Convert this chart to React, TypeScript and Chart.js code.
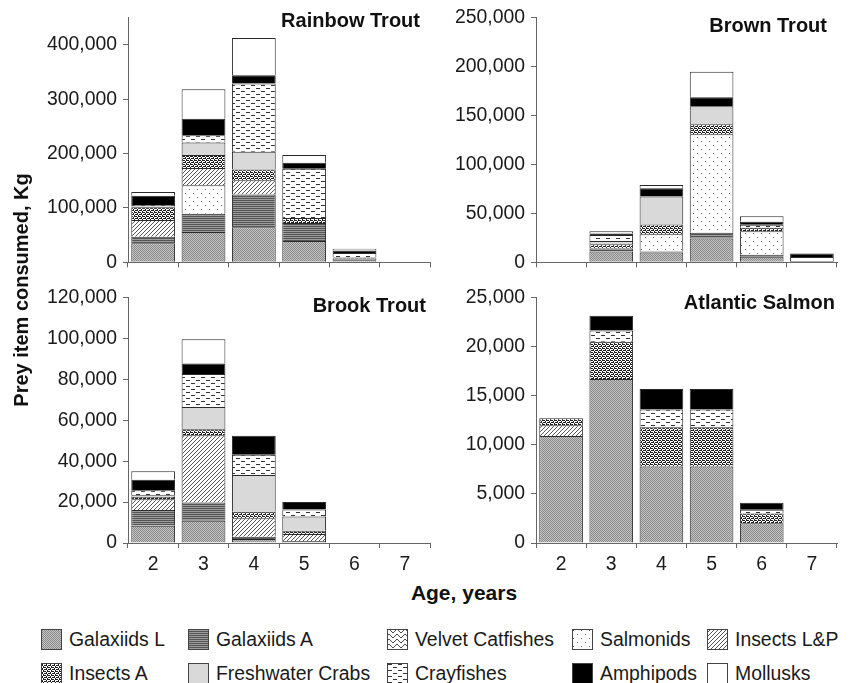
import React, { useEffect, useRef } from 'react';
import { Chart, registerables } from 'chart.js';

Chart.register(...registerables);

// ---------- DATA ----------
const ages = ['2', '3', '4', '5', '6', '7'];

const preyNames = [
  'Galaxiids L',
  'Galaxiids A',
  'Velvet Catfishes',
  'Salmonids',
  'Insects L&P',
  'Insects A',
  'Freshwater Crabs',
  'Crayfishes',
  'Amphipods',
  'Mollusks',
];

// rows follow preyNames order, columns follow ages
const rainbowTrout = [
  [35000, 55600, 64600, 39200, 4000, 0],
  [12000, 33800, 60400, 33300, 3000, 0],
  [0, 0, 0, 0, 0, 0],
  [0, 52300, 0, 0, 0, 0],
  [31000, 31700, 26000, 0, 0, 0],
  [23400, 24100, 19900, 9000, 2000, 0],
  [1500, 22900, 32600, 0, 0, 0],
  [2500, 13300, 125600, 90500, 8000, 0],
  [17000, 30200, 15100, 11000, 5000, 0],
  [7000, 54300, 68200, 14500, 3000, 0],
];

const brownTrout = [
  [0, 11100, 10000, 24500, 5700, 1500],
  [0, 3000, 1000, 5700, 2000, 0],
  [0, 0, 0, 0, 0, 0],
  [0, 0, 17600, 100800, 24200, 4000],
  [0, 0, 0, 0, 0, 0],
  [0, 4400, 10000, 10000, 3500, 0],
  [0, 3400, 28600, 18600, 0, 0],
  [0, 6000, 0, 0, 3000, 0],
  [0, 1500, 8400, 9000, 3000, 3500],
  [0, 2500, 3400, 26200, 5600, 0],
];

const brookTrout = [
  [8400, 10900, 2000, 1000, 0, 0],
  [7700, 8900, 1000, 0, 0, 0],
  [0, 0, 0, 0, 0, 0],
  [0, 0, 0, 0, 0, 0],
  [5300, 32900, 9100, 3400, 0, 0],
  [1200, 2900, 3200, 1600, 0, 0],
  [800, 10900, 18000, 6900, 0, 0],
  [2400, 16100, 9900, 3500, 0, 0],
  [5100, 5200, 9200, 3700, 0, 0],
  [4200, 11800, 0, 0, 0, 0],
];

const atlanticSalmon = [
  [10900, 16700, 7800, 7800, 2000, 0],
  [0, 0, 0, 0, 0, 0],
  [0, 0, 0, 0, 0, 0],
  [0, 0, 0, 0, 0, 0],
  [1100, 0, 0, 0, 0, 0],
  [700, 3800, 4000, 4000, 1000, 0],
  [0, 0, 0, 0, 0, 0],
  [0, 1150, 1800, 1800, 400, 0],
  [0, 1500, 2100, 2100, 700, 0],
  [0, 0, 0, 0, 0, 0],
];

const panelTitles = ['Rainbow Trout', 'Brown Trout', 'Brook Trout', 'Atlantic Salmon'];
const yMaxValues = [450000, 250000, 120000, 25000];
const yStepValues = [100000, 50000, 20000, 5000];

// ---------- STYLE ----------
const FONT = "'Liberation Sans', Arial, Helvetica, sans-serif";
const AXIS = '#666666';
const TEXT = '#1a1a1a';

type Fill = { rows: string[]; colors: Record<string, string> };

const fills: Fill[] = [
  { rows: ['ab', 'ba'], colors: { a: '#8a8a8a', b: '#c4c4c4' } },
  { rows: ['a', 'b'], colors: { a: '#555555', b: '#9c9c9c' } },
  {
    rows: ['.##.....', '#..#....', '....#..#', '.....##.', '........'],
    colors: { '.': '#ffffff', '#': '#4a4a4a' },
  },
  {
    rows: ['........', '.#......', '........', '........', '........', '.....#..', '........', '........'],
    colors: { '.': '#ffffff', '#': '#666666' },
  },
  { rows: ['...#', '..#.', '.#..', '#...'], colors: { '.': '#ffffff', '#': '#555555' } },
  { rows: ['#.##', '.#..', '##.#', '..#.'], colors: { '.': '#ffffff', '#': '#202020' } },
  { rows: ['a'], colors: { a: '#d9d9d9' } },
  {
    rows: ['..........', '.####.....', '..........', '..........', '......####', '..........'],
    colors: { '.': '#ffffff', '#': '#333333' },
  },
  { rows: ['a'], colors: { a: '#000000' } },
  { rows: ['a'], colors: { a: '#ffffff' } },
];

function makePattern(ctx: CanvasRenderingContext2D, f: Fill): CanvasPattern | string {
  const h = f.rows.length;
  const w = f.rows[0].length;
  if (w === 1 && h === 1) return f.colors[f.rows[0][0]];
  const c = document.createElement('canvas');
  c.width = w;
  c.height = h;
  const t = c.getContext('2d')!;
  for (let y = 0; y < h; y++) {
    for (let x = 0; x < w; x++) {
      t.fillStyle = f.colors[f.rows[y][x]];
      t.fillRect(x, y, 1, 1);
    }
  }
  return ctx.createPattern(c, 'repeat')!;
}

type Panel = {
  data: number[][];
  left: number;
  top: number;
  width: number;
  height: number;
  areaLeft: number;
  areaRight: number;
  areaTop: number;
  areaBottom: number;
  showX: boolean;
  titleRight: number;
  titleBaseline: number;
};

const panels: Panel[] = [
  { data: rainbowTrout, left: 0, top: 0, width: 440, height: 280, areaLeft: 128, areaRight: 430, areaTop: 17, areaBottom: 265, showX: false, titleRight: 10, titleBaseline: 27 },
  { data: brownTrout, left: 440, top: 0, width: 411, height: 280, areaLeft: 96, areaRight: 397, areaTop: 17, areaBottom: 265, showX: false, titleRight: 10, titleBaseline: 32 },
  { data: brookTrout, left: 0, top: 280, width: 440, height: 300, areaLeft: 128, areaRight: 430, areaTop: 15, areaBottom: 263, showX: true, titleRight: 4, titleBaseline: 32 },
  { data: atlanticSalmon, left: 440, top: 280, width: 411, height: 300, areaLeft: 96, areaRight: 397, areaTop: 15, areaBottom: 263, showX: true, titleRight: 2, titleBaseline: 28.5 },
];

const panelTitlePlugin = {
  id: 'panelTitle',
  afterDraw(chart: any, _args: any, opts: any) {
    const { ctx, chartArea } = chart;
    ctx.save();
    ctx.font = `bold 20px ${FONT}`;
    ctx.fillStyle = '#111111';
    ctx.textAlign = 'right';
    ctx.textBaseline = 'alphabetic';
    ctx.fillText(opts.text, chartArea.right - opts.dx, opts.y);
    ctx.restore();
  },
};

const legendLayout = [
  { x: 41, row: 0 },
  { x: 188, row: 0 },
  { x: 387, row: 0 },
  { x: 572, row: 0 },
  { x: 707, row: 0 },
  { x: 41, row: 1 },
  { x: 188, row: 1 },
  { x: 387, row: 1 },
  { x: 572, row: 1 },
  { x: 707, row: 1 },
];
const legendRowCenter = [639, 673];

export default function App() {
  const canvasRefs = useRef<(HTMLCanvasElement | null)[]>([]);
  const swatchRefs = useRef<(HTMLCanvasElement | null)[]>([]);

  useEffect(() => {
    const charts: Chart[] = [];
    panels.forEach((p, i) => {
      const canvas = canvasRefs.current[i];
      if (!canvas) return;
      const ctx = canvas.getContext('2d')!;
      const datasets = preyNames.map((name, k) => ({
        label: name,
        data: p.data[k].map((v) => (v === 0 ? null : v)),
        backgroundColor: makePattern(ctx, fills[k]) as any,
        borderColor: '#2a2a2a',
        borderWidth: 1,
        barPercentage: 0.87,
        categoryPercentage: 1,
      }));
      const yMax = yMaxValues[i];
      const yStep = yStepValues[i];
      const chart = new Chart(canvas, {
        type: 'bar',
        data: { labels: ages, datasets },
        options: {
          responsive: false,
          animation: false,
          layout: {
            padding: { top: p.areaTop, right: p.width - p.areaRight, left: 0, bottom: 0 },
          },
          plugins: {
            legend: { display: false },
            tooltip: { enabled: false },
            title: { display: false },
            panelTitle: { text: panelTitles[i], dx: p.titleRight, y: p.titleBaseline },
          } as any,
          scales: {
            x: {
              stacked: true,
              offset: true,
              grid: {
                display: true,
                drawOnChartArea: false,
                drawTicks: true,
                tickLength: 5,
                color: AXIS,
                offset: true,
              },
              border: { display: true, color: AXIS, width: 1 },
              ticks: {
                display: p.showX,
                font: { family: FONT, size: 19.4 },
                color: TEXT,
                padding: 5,
                maxRotation: 0,
              },
              afterFit: (s: any) => {
                s.height = p.height - p.areaBottom;
              },
            },
            y: {
              stacked: true,
              min: 0,
              max: yMax,
              bounds: 'data',
              grid: {
                display: true,
                drawOnChartArea: false,
                drawTicks: true,
                tickLength: 5,
                color: AXIS,
              },
              border: { display: true, color: AXIS, width: 1 },
              ticks: {
                stepSize: yStep,
                font: { family: FONT, size: 19.4 },
                color: TEXT,
                padding: 6,
                callback: (v: any) => Number(v).toLocaleString('en-US'),
              },
              afterBuildTicks: (s: any) => {
                const t: { value: number }[] = [];
                for (let v = 0; v <= yMax + 1e-6; v += yStep) t.push({ value: v });
                s.ticks = t;
              },
              afterFit: (s: any) => {
                s.width = p.areaLeft;
              },
            },
          } as any,
        },
        plugins: [panelTitlePlugin],
      });
      charts.push(chart);
    });

    // legend swatches
    swatchRefs.current.forEach((c, k) => {
      if (!c) return;
      const ctx = c.getContext('2d')!;
      ctx.clearRect(0, 0, c.width, c.height);
      ctx.fillStyle = makePattern(ctx, fills[k]) as any;
      ctx.fillRect(0, 0, c.width, c.height);
      ctx.strokeStyle = '#444444';
      ctx.lineWidth = 1;
      ctx.strokeRect(0.5, 0.5, c.width - 1, c.height - 1);
    });

    return () => {
      charts.forEach((c) => c.destroy());
    };
  }, []);

  return (
    <div
      style={{
        position: 'absolute',
        left: 0,
        top: 0,
        width: 851,
        height: 683,
        background: '#ffffff',
        overflow: 'hidden',
        fontFamily: FONT,
        color: TEXT,
      }}
    >
      {panels.map((p, i) => (
        <canvas
          key={i}
          ref={(el) => {
            canvasRefs.current[i] = el;
          }}
          width={p.width}
          height={p.height}
          style={{ position: 'absolute', left: p.left, top: p.top, width: p.width, height: p.height }}
        />
      ))}

      <div
        style={{
          position: 'absolute',
          left: 20.5 - 200,
          top: 290 - 12,
          width: 400,
          height: 24,
          lineHeight: '24px',
          fontSize: 20,
          fontWeight: 'bold',
          textAlign: 'center',
          whiteSpace: 'nowrap',
          transform: 'rotate(-90deg)',
          color: '#111111',
        }}
      >
        Prey item consumed, Kg
      </div>

      <div
        style={{
          position: 'absolute',
          left: 464 - 200,
          top: 580.7,
          width: 400,
          height: 24,
          lineHeight: '24px',
          fontSize: 21,
          fontWeight: 'bold',
          textAlign: 'center',
          whiteSpace: 'nowrap',
          color: '#111111',
        }}
      >
        Age, years
      </div>

      {preyNames.map((name, k) => {
        const L = legendLayout[k];
        const cy = legendRowCenter[L.row];
        return (
          <React.Fragment key={name}>
            <canvas
              ref={(el) => {
                swatchRefs.current[k] = el;
              }}
              width={21}
              height={21}
              style={{ position: 'absolute', left: L.x, top: cy - 10.5, width: 21, height: 21 }}
            />
            <div
              style={{
                position: 'absolute',
                left: L.x + 28,
                top: cy - 11,
                height: 22,
                lineHeight: '22px',
                fontSize: 19.4,
                whiteSpace: 'nowrap',
              }}
            >
              {name}
            </div>
          </React.Fragment>
        );
      })}
    </div>
  );
}
